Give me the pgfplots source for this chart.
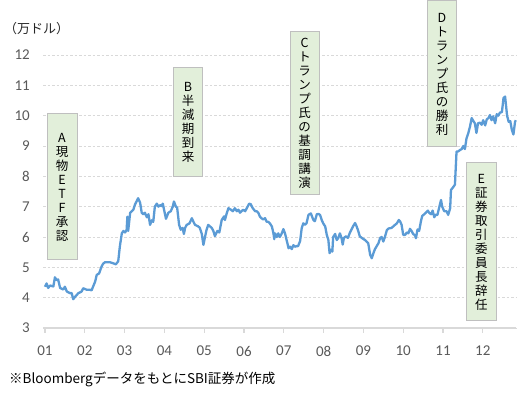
\documentclass[border=0pt]{standalone}
\usepackage{pgfplots}
\pgfplotsset{compat=1.18}
\usepackage{pgfplotstable}
\usepackage{fontspec}
\setmainfont{Carlito}
\newfontfamily\jp{Noto Sans CJK JP}
\definecolor{lineblue}{HTML}{5B9BD5}
\definecolor{boxgreen}{HTML}{E2EFDA}
\definecolor{boxborder}{HTML}{BFBFBF}
\definecolor{ticktext}{HTML}{595959}
\definecolor{gridc}{HTML}{D9D9D9}
\newcommand{\anno}[5]{%
  \draw[boxborder, fill=boxgreen, line width=1bp] (#1,#2) rectangle (#3,#4);
  \node[align=center, font=\jp\fontsize{12.5bp}{14bp}\selectfont, inner sep=0pt] at ({(#1+#3)/2},{(#2+#4)/2}) {#5};
}
\pgfplotstableread{
m v
0.00 4.36
0.04 4.47
0.08 4.32
0.13 4.40
0.21 4.37
0.25 4.67
0.29 4.58
0.33 4.60
0.38 4.32
0.46 4.27
0.50 4.36
0.55 4.20
0.63 4.15
0.67 4.15
0.71 3.95
0.75 4.02
0.84 4.15
0.92 4.20
0.96 4.31
1.05 4.26
1.13 4.26
1.17 4.24
1.26 4.53
1.30 4.75
1.36 4.80
1.42 5.02
1.46 5.12
1.51 5.17
1.63 5.17
1.72 5.13
1.78 5.10
1.84 5.20
1.88 5.68
1.93 6.12
1.97 6.20
2.01 6.15
2.05 6.22
2.07 6.67
2.09 6.20
2.14 6.80
2.22 6.90
2.26 7.07
2.30 7.17
2.34 7.28
2.39 7.13
2.43 6.80
2.47 6.75
2.51 6.80
2.56 6.65
2.60 6.75
2.64 6.40
2.68 6.55
2.72 6.50
2.76 7.00
2.81 7.10
2.85 7.00
2.89 7.05
2.93 7.02
2.96 7.10
3.02 6.72
3.04 6.60
3.10 6.80
3.16 6.85
3.21 7.00
3.24 7.17
3.29 7.00
3.32 6.97
3.37 6.40
3.41 6.24
3.46 6.30
3.49 6.10
3.52 6.30
3.56 6.40
3.63 6.45
3.69 6.62
3.73 6.50
3.77 6.40
3.85 6.35
3.89 6.30
3.94 6.10
3.98 5.74
4.02 6.00
4.06 6.24
4.10 6.40
4.19 6.30
4.23 6.20
4.27 6.03
4.33 6.20
4.38 6.15
4.44 6.56
4.50 6.68
4.52 6.56
4.57 6.80
4.61 6.95
4.67 6.90
4.72 6.85
4.77 6.95
4.82 6.85
4.86 6.90
4.90 6.80
4.94 6.85
4.98 6.90
5.03 6.85
5.07 6.95
5.13 7.10
5.17 7.08
5.22 6.95
5.28 6.85
5.32 6.85
5.36 6.80
5.40 6.67
5.44 6.62
5.48 6.58
5.53 6.62
5.57 6.50
5.61 6.50
5.65 6.45
5.70 6.35
5.74 6.12
5.76 5.93
5.78 6.12
5.82 6.00
5.86 6.12
5.90 6.00
5.95 6.12
5.99 6.26
6.03 6.12
6.08 5.85
6.12 5.63
6.16 5.68
6.20 5.60
6.24 5.73
6.28 5.68
6.32 5.70
6.36 5.70
6.41 5.87
6.45 6.29
6.49 6.45
6.53 6.40
6.57 6.45
6.62 6.73
6.68 6.78
6.74 6.57
6.78 6.52
6.83 6.75
6.87 6.76
6.91 6.73
6.95 6.57
6.99 6.45
7.04 6.35
7.08 6.07
7.12 5.90
7.15 5.47
7.19 5.58
7.22 5.52
7.24 6.00
7.29 6.10
7.33 5.90
7.37 5.97
7.41 6.12
7.45 5.97
7.48 5.75
7.51 5.97
7.56 6.02
7.61 5.97
7.66 6.14
7.74 6.35
7.79 6.46
7.83 6.35
7.87 6.20
7.91 6.02
7.96 5.97
8.04 5.90
8.08 5.85
8.12 5.80
8.17 5.41
8.21 5.30
8.25 5.46
8.29 5.60
8.38 5.80
8.42 5.97
8.46 6.00
8.50 5.85
8.54 6.00
8.59 6.23
8.63 6.28
8.71 6.30
8.75 6.35
8.84 6.45
8.89 6.56
8.92 6.52
8.96 6.40
9.00 6.07
9.05 6.07
9.09 6.15
9.13 6.12
9.17 6.27
9.21 6.20
9.25 6.10
9.30 6.05
9.32 5.96
9.36 6.25
9.40 6.20
9.45 6.55
9.48 6.70
9.53 6.75
9.57 6.80
9.62 6.87
9.65 6.80
9.70 6.75
9.74 6.87
9.78 6.65
9.81 6.73
9.86 6.73
9.90 6.95
9.95 7.22
9.98 7.00
10.03 6.85
10.09 6.85
10.13 6.73
10.18 6.95
10.20 7.55
10.26 7.65
10.30 7.73
10.34 8.82
10.38 8.82
10.43 8.87
10.47 8.90
10.51 9.00
10.55 8.90
10.59 9.25
10.63 9.40
10.68 9.65
10.72 9.92
10.76 9.83
10.80 9.75
10.84 9.43
10.88 9.75
10.93 9.77
10.97 9.70
11.01 9.85
11.06 9.68
11.10 9.88
11.14 9.92
11.18 10.02
11.22 9.85
11.26 9.98
11.31 9.75
11.35 10.05
11.39 10.00
11.43 10.10
11.48 10.12
11.52 10.58
11.56 10.63
11.61 10.00
11.65 9.80
11.69 9.82
11.73 9.53
11.77 9.38
11.81 9.80
11.83 9.85
}\btc

\begin{document}
\begin{tikzpicture}
\useasboundingbox (0,0) rectangle (531bp,396bp);
\begin{axis}[
  at={(43bp,68bp)}, anchor=south west,
  scale only axis, width=473bp, height=273bp,
  xmin=-0.05, xmax=11.834, ymin=3, ymax=12,
  separate axis lines,
  axis x line*=bottom, axis y line*=left,
  y axis line style={draw=none},
  x axis line style={draw=gridc, line width=1.2bp, -},
  ytick={3,4,...,12},
  ytick style={draw=none},
  xtick={0,1,...,11},
  xticklabels={01,02,03,04,05,06,07,08,09,10,11,12},
  xtick style={draw=gridc, line width=1.2bp},
  xtick align=outside, major tick length=5bp,
  ymajorgrids,
  grid style={gridc, dash pattern=on 2.5bp off 2bp, line width=0.8bp},
  /pgf/number format/assume math mode=true,
  tick label style={font=\fontsize{15bp}{18bp}\selectfont, text=ticktext},
  yticklabel style={anchor=east, inner sep=0pt, xshift=-13bp},
  xticklabel style={anchor=north, inner sep=0pt, yshift=-13bp},
  clip=false,
]
\addplot[lineblue, line width=2.3bp, line join=round] table[x=m,y=v]{\btc};
\end{axis}
\begin{scope}[shift={(0bp,396bp)}, x=1bp, y=-1bp]
  \anno{47}{114}{77}{260}{A\\現\\物\\E\\T\\F\\承\\認}
  \anno{173.5}{68}{202.5}{177}{B\\半\\減\\期\\到\\来}
  \anno{290}{32}{319}{195}{C\\ト\\ラ\\ン\\プ\\氏\\の\\基\\調\\講\\演}
  \anno{427.5}{1}{456.5}{147}{D\\ト\\ラ\\ン\\プ\\氏\\の\\勝\\利}
  \anno{466}{163}{496.5}{321}{E\\証\\券\\取\\引\\委\\員\\長\\辞\\任}
  \node[anchor=west, inner sep=0pt, font=\jp\fontsize{13bp}{15bp}\selectfont, text=black!85] at (4,29) {（万ドル）};
  \node[anchor=west, inner sep=0pt, font=\jp\fontsize{13.5bp}{15bp}\selectfont] at (9,379) {※Bloombergデータをもとに\kern0ptSBI証券が作成};
\end{scope}
\end{tikzpicture}
\end{document}
